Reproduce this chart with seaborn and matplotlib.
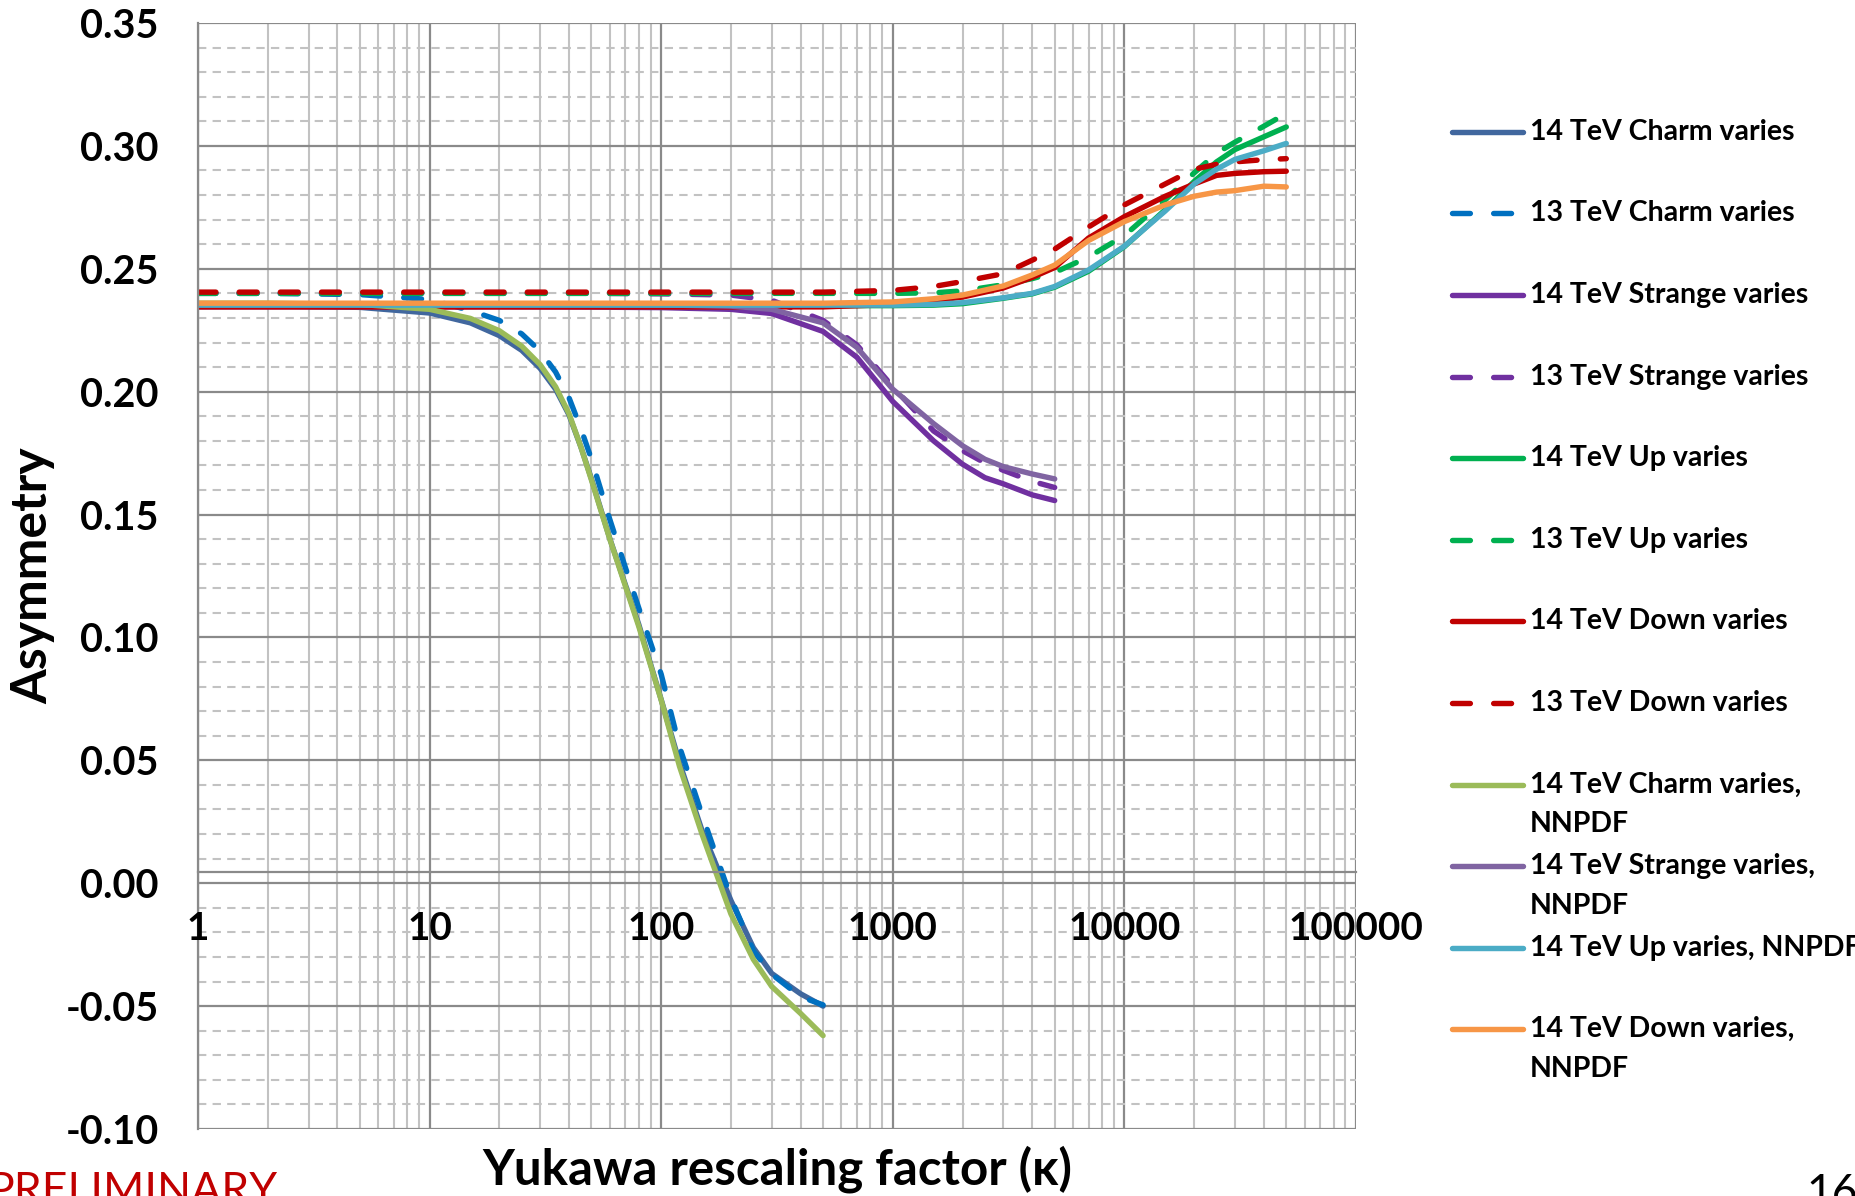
import numpy as np
import pandas as pd
import matplotlib
matplotlib.use("Agg")
import matplotlib.pyplot as plt
from matplotlib.ticker import (FixedLocator, FixedFormatter, LogLocator, MultipleLocator,
                               NullFormatter, NullLocator)
import seaborn as sns

# ---------------- data ----------------
kappa_charm = [1, 2, 5, 10, 15, 20, 25, 30, 35, 40, 45, 50, 60, 70, 80, 100, 120, 150, 200,
               250, 300, 400, 500]
charm_14 = [0.2350, 0.2349, 0.2343, 0.2320, 0.2280, 0.2228, 0.2168, 0.2095, 0.2010, 0.1905,
            0.1775, 0.1645, 0.1402, 0.1215, 0.1053, 0.0747, 0.0490, 0.0215, -0.0070,
            -0.0262, -0.0367, -0.0450, -0.0500]
charm_13 = [0.2400, 0.2400, 0.2395, 0.2375, 0.2330, 0.2290, 0.2235, 0.2165, 0.2080, 0.1975,
            0.1850, 0.1725, 0.1480, 0.1285, 0.1120, 0.0850, 0.0555, 0.0280, -0.0060,
            -0.0275, -0.0370, -0.0462, -0.0495]
charm_14_nnpdf = [0.2360, 0.2360, 0.2355, 0.2335, 0.2298, 0.2248, 0.2185, 0.2110, 0.2020, 0.1910,
                  0.1775, 0.1640, 0.1400, 0.1210, 0.1045, 0.0745, 0.0475, 0.0200, -0.0125,
                  -0.0310, -0.0420, -0.0530, -0.0620]

kappa_strange = [1, 2, 5, 10, 20, 50, 100, 200, 300, 500, 700, 1000, 1500, 2000, 2500, 3000,
                 4000, 5000]
strange_14 = [0.2345, 0.2345, 0.2345, 0.2345, 0.2345, 0.2344, 0.2342, 0.2335, 0.2318, 0.2245,
              0.2140, 0.1960, 0.1800, 0.1705, 0.1650, 0.1625, 0.1580, 0.1557]
strange_13 = [0.2400, 0.2400, 0.2400, 0.2400, 0.2400, 0.2400, 0.2398, 0.2393, 0.2372, 0.2290,
              0.2190, 0.2020, 0.1840, 0.1760, 0.1710, 0.1680, 0.1635, 0.1610]
strange_14_nnpdf = [0.2355, 0.2355, 0.2355, 0.2355, 0.2355, 0.2355, 0.2353, 0.2348, 0.2335, 0.2280,
                    0.2180, 0.2010, 0.1870, 0.1780, 0.1725, 0.1695, 0.1665, 0.1645]

kappa_light = [1, 2, 5, 10, 20, 50, 100, 200, 500, 1000, 1500, 2000, 3000, 4000, 5000, 7000,
               10000, 15000, 20000, 25000, 30000, 40000, 50000]
up_14 = [0.2350, 0.2350, 0.2350, 0.2350, 0.2350, 0.2350, 0.2350, 0.2350, 0.2350, 0.2350, 0.2352,
         0.2358, 0.2380, 0.2398, 0.2425, 0.2490, 0.2590, 0.2740, 0.2855, 0.2935, 0.2985, 0.3037, 0.3077]
up_13 = [0.2400, 0.2400, 0.2400, 0.2400, 0.2400, 0.2400, 0.2400, 0.2400, 0.2400, 0.2400, 0.2402,
         0.2410, 0.2435, 0.2460, 0.2485, 0.2548, 0.2635, 0.2780, 0.2890, 0.2970, 0.3015, 0.3080, 0.3132]
up_14_nnpdf = [0.2352, 0.2352, 0.2352, 0.2352, 0.2352, 0.2352, 0.2352, 0.2352, 0.2352, 0.2352, 0.2355,
               0.2362, 0.2382, 0.2400, 0.2428, 0.2495, 0.2592, 0.2735, 0.2845, 0.2905, 0.2945, 0.2980, 0.3010]
down_14 = [0.2345, 0.2345, 0.2345, 0.2345, 0.2345, 0.2345, 0.2345, 0.2345, 0.2345, 0.2355, 0.2370,
           0.2385, 0.2422, 0.2465, 0.2505, 0.2625, 0.2712, 0.2795, 0.2845, 0.2880, 0.2888, 0.2895, 0.2897]
down_13 = [0.2405, 0.2405, 0.2405, 0.2405, 0.2405, 0.2405, 0.2405, 0.2405, 0.2405, 0.2412, 0.2428,
           0.2448, 0.2480, 0.2535, 0.2580, 0.2670, 0.2760, 0.2845, 0.2905, 0.2925, 0.2935, 0.2944, 0.2948]
down_14_nnpdf = [0.2360, 0.2360, 0.2360, 0.2360, 0.2360, 0.2360, 0.2360, 0.2360, 0.2360, 0.2365, 0.2378,
                 0.2393, 0.2430, 0.2475, 0.2515, 0.2615, 0.2692, 0.2760, 0.2795, 0.2812, 0.2818, 0.2836, 0.2833]

series_labels = [
    "14 TeV Charm varies", "13 TeV Charm varies",
    "14 TeV Strange varies", "13 TeV Strange varies",
    "14 TeV Up varies", "13 TeV Up varies",
    "14 TeV Down varies", "13 TeV Down varies",
    "14 TeV Charm varies,\nNNPDF", "14 TeV Strange varies,\nNNPDF",
    "14 TeV Up varies, NNPDF", "14 TeV Down varies,\nNNPDF",
]
series_x = [kappa_charm, kappa_charm, kappa_strange, kappa_strange, kappa_light, kappa_light,
            kappa_light, kappa_light, kappa_charm, kappa_strange, kappa_light, kappa_light]
series_y = [charm_14, charm_13, strange_14, strange_13, up_14, up_13, down_14, down_13,
            charm_14_nnpdf, strange_14_nnpdf, up_14_nnpdf, down_14_nnpdf]
series_colors = ["#41679E", "#0070C0", "#7030A0", "#7030A0", "#00B050", "#00B050",
                 "#C00000", "#C00000", "#9BBB59", "#8064A2", "#4BACC6", "#F79646"]
series_dashed = [False, True, False, True, False, True, False, True, False, False, False, False]

x_tick_values = [1, 10, 100, 1000, 10000, 100000]
x_tick_labels = ["1", "10", "100", "1000", "10000", "100000"]
y_tick_values = [-0.10, -0.05, 0.00, 0.05, 0.10, 0.15, 0.20, 0.25, 0.30, 0.35]
y_tick_labels = ["-0.10", "-0.05", "0.00", "0.05", "0.10", "0.15", "0.20", "0.25", "0.30", "0.35"]
x_axis_crossing = 0.0045

x_title = "Yukawa rescaling factor (\u03ba)"
y_title = "Asymmetry"

# ---------------- styling ----------------
sns.set_style("white")
plt.rcParams["font.family"] = ["Lato", "DejaVu Sans"]

W, H = 1855, 1196
fig = plt.figure(figsize=(W / 100, H / 100), dpi=100)
ax = fig.add_axes([198 / W, 1 - 1129 / H, (1356 - 198) / W, (1129 - 23) / H])

LW = 3.9
DASH = (3.3, 4.3)

for xs, ys, col, dashed in zip(series_x, series_y, series_colors, series_dashed):
    df = pd.DataFrame({"kappa": xs, "asym": ys})
    sns.lineplot(data=df, x="kappa", y="asym", ax=ax, color=col, linewidth=LW,
                 estimator=None, sort=True, legend=False)
    line = ax.lines[-1]
    line.set_solid_capstyle("round")
    line.set_dash_capstyle("round")
    line.set_solid_joinstyle("round")
    line.set_dash_joinstyle("round")
    line.set_zorder(2)
    if dashed:
        line.set_dashes(DASH)

ax.set_xscale("log")
ax.set_xlim(1, 100000)
ax.set_ylim(-0.10, 0.35)

ax.xaxis.set_major_locator(FixedLocator(x_tick_values))
ax.xaxis.set_minor_locator(LogLocator(base=10, subs=np.arange(2, 10), numticks=100))
ax.xaxis.set_minor_formatter(NullFormatter())
ax.yaxis.set_major_locator(FixedLocator(y_tick_values))
ax.yaxis.set_major_formatter(FixedFormatter(y_tick_labels))
ax.yaxis.set_minor_locator(MultipleLocator(0.01))

GMAJ = "#8A8A8A"
GMIN = "#C2C2C2"
ax.xaxis.grid(True, which="major", color=GMAJ, linewidth=1.6)
ax.xaxis.grid(True, which="minor", color=GMIN, linewidth=1.5)
ax.yaxis.grid(True, which="major", color=GMAJ, linewidth=1.6)
ax.yaxis.grid(True, which="minor", color=GMIN, linewidth=1.5, linestyle=(0, (4, 3)))
ax.set_axisbelow(True)

for s in ["top", "right", "bottom"]:
    ax.spines[s].set_visible(False)
ax.spines["left"].set_color(GMAJ)
ax.spines["left"].set_linewidth(1.6)

ax.tick_params(axis="y", which="major", length=9.4, width=1.6, color=GMAJ, pad=19,
               labelsize=28.5, labelcolor="black")
ax.tick_params(axis="y", which="minor", length=0)
ax.tick_params(axis="x", which="both", length=0, labelbottom=False)
for lab in ax.get_yticklabels():
    lab.set_fontweight("bold")

# horizontal category axis crossing near zero (labels drawn above the grid)
sec = ax.secondary_xaxis((x_axis_crossing + 0.10) / 0.45)
sec.set_zorder(3)
sec.xaxis.set_major_locator(FixedLocator(x_tick_values))
sec.xaxis.set_major_formatter(FixedFormatter(x_tick_labels))
sec.xaxis.set_minor_locator(NullLocator())
sec.spines["bottom"].set_color(GMAJ)
sec.spines["bottom"].set_linewidth(1.6)
sec.tick_params(axis="x", which="both", length=0, pad=28, labelsize=27.8, labelcolor="black")
for lab in sec.get_xticklabels():
    lab.set_fontweight("bold")

ax.set_xlabel(x_title, fontsize=35.5, fontweight="bold", color="black")
ax.xaxis.set_label_coords(0.5, -(1169 - 1129) / (1129 - 23))
ax.xaxis.label.set_va("center")
ax.set_ylabel(y_title, fontsize=36, fontweight="bold", color="black")
ax.yaxis.set_label_coords((33 - 198) / (1356 - 198), 0.5)
ax.yaxis.label.set_va("center")

# ---------------- legend (drawn at the right, Excel style) ----------------
lax = fig.add_axes([0, 0, 1, 1], zorder=5)
lax.set_xlim(0, W)
lax.set_ylim(H, 0)
lax.axis("off")
row0, step = 131.7, 81.6
for i, (lab, col, dashed) in enumerate(zip(series_labels, series_colors, series_dashed)):
    y = row0 + step * i
    ln, = lax.plot([1452, 1523], [y, y], color=col, linewidth=LW,
                   solid_capstyle="round", dash_capstyle="round")
    if dashed:
        ln.set_dashes(DASH)
    for j, part in enumerate(lab.split("\n")):
        lax.text(1530, y + 40 * j, part, fontsize=20.5, fontweight="bold",
                 va="center", ha="left", color="black")

# slide decorations
fig.text(-12 / W, 1 - 1204 / H, "PRELIMINARY", color="#C00000", fontsize=32,
         ha="left", va="baseline")
fig.text(1806 / W, 1 - 1206 / H, "16", color="black", fontsize=32, ha="left", va="baseline")

fig.savefig("out.png", dpi=100)
